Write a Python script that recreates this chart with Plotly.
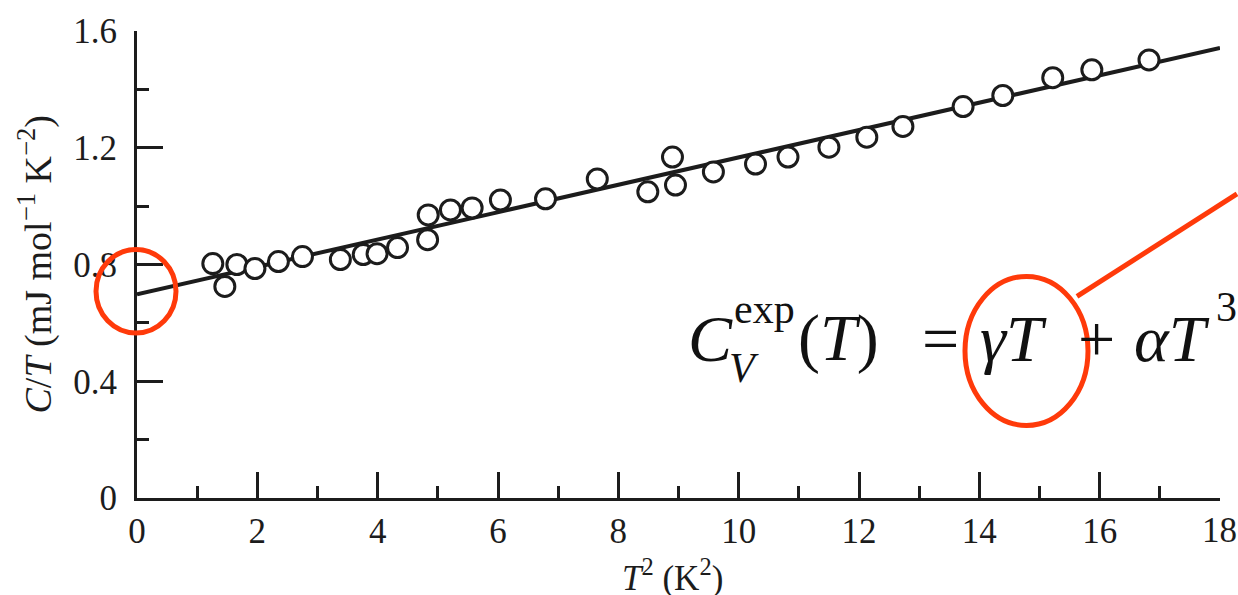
import plotly.graph_objects as go

# ---- data ----
t2_values = [1.26, 1.46, 1.66, 1.96, 2.35, 2.75, 3.38, 3.76, 3.99, 4.33,
             4.83, 4.84, 5.21, 5.57, 6.04, 6.79, 7.65, 8.49, 8.90, 8.95,
             9.58, 10.28, 10.82, 11.50, 12.13, 12.73, 13.73, 14.39, 15.22,
             15.87, 16.82]
ct_values = [0.803, 0.725, 0.800, 0.786, 0.810, 0.827, 0.817, 0.834, 0.837, 0.858,
             0.885, 0.970, 0.987, 0.994, 1.021, 1.025, 1.093, 1.049, 1.168, 1.072,
             1.117, 1.144, 1.168, 1.202, 1.236, 1.273, 1.341, 1.379, 1.440,
             1.467, 1.501]
fit_x = [0, 18]
fit_y = [0.698, 1.542]

x_ticks = [0, 2, 4, 6, 8, 10, 12, 14, 16, 18]
x_tick_labels = ["0", "2", "4", "6", "8", "10", "12", "14", "16", "18"]
y_ticks = [0, 0.4, 0.8, 1.2, 1.6]
y_tick_labels = ["0", "0.4", "0.8", "1.2", "1.6"]

# ---- layout geometry (pixels) ----
W, H = 1238, 595
L, R, T, B = 137, 1220, 28, 498


def px(xp):
    return (xp - L) / (R - L)


def py(yp):
    return (B - yp) / (B - T)


FONT = "Liberation Serif"
INK = "#1c1c1c"
RED = "#ff3a0a"
TICK_SIZE = 35

fig = go.Figure()
fig.add_trace(go.Scatter(x=fit_x, y=fit_y, mode="lines",
                         line=dict(color=INK, width=4), hoverinfo="skip",
                         showlegend=False))
fig.add_trace(go.Scatter(x=t2_values, y=ct_values, mode="markers",
                         marker=dict(symbol="circle", size=20, color="white",
                                     line=dict(color=INK, width=3)),
                         showlegend=False))

axis_common = dict(showline=True, linecolor=INK, linewidth=3, ticks="inside",
                   tickcolor=INK, tickwidth=3, ticklen=26, showgrid=False,
                   zeroline=False,
                   tickfont=dict(family=FONT, size=TICK_SIZE, color=INK))

# the last x label sits at the page edge: it is drawn as an annotation,
# right-aligned to the edge, so that it does not spill past the page
x_axis_text = x_tick_labels[:-1] + [""]
fig.update_xaxes(range=[0, 18], tickvals=x_ticks, ticktext=x_axis_text,
                 ticklabelstandoff=0,
                 minor=dict(dtick=1, ticks="inside", ticklen=12, tickwidth=3,
                            tickcolor=INK, showgrid=False),
                 **axis_common)
fig.update_yaxes(range=[0, 1.6], tickvals=y_ticks, ticktext=y_tick_labels,
                 ticklabelstandoff=10,
                 minor=dict(dtick=0.2, ticks="inside", ticklen=12, tickwidth=3,
                            tickcolor=INK, showgrid=False),
                 **axis_common)

annotations = [
    dict(text=x_tick_labels[-1], x=px(1238), y=py(531), xanchor="right",
         font=dict(family=FONT, size=TICK_SIZE, color=INK), borderpad=0),
    dict(text="<i>T</i><sup>2</sup> (K<sup>2</sup>)", x=px(672), y=py(576),
         font=dict(family=FONT, size=35, color=INK)),
    dict(text="<i>C</i>/<i>T</i> (mJ mol<sup>\u22121</sup> K<sup>\u22122</sup>)",
         x=px(36), y=py(263), font=dict(family=FONT, size=38, color=INK),
         textangle=-90),
]

# formula pieces: (text, anchor px, middle px, size, anchor side)
formula = [
    ("<i>C</i>", 687, 337, 66, "left"),
    ("exp", 733, 308, 42, "left"),
    ("<i>V</i>", 728, 367, 42, "left"),
    ("(<i>T</i>)", 797, 337, 66, "left"),
    ("=", 921, 337, 66, "left"),
    ("<i>\u03b3T</i>", 979, 337, 66, "left"),
    ("+", 1077, 337, 66, "left"),
    ("<i>\u03b1T</i>", 1133, 337, 66, "left"),
    ("3", 1238, 306, 42, "right"),
]
for txt, xa, ym, sz, side in formula:
    annotations.append(dict(text=txt, x=px(xa), y=py(ym), xanchor=side,
                            yanchor="middle", borderpad=0,
                            font=dict(family=FONT, size=sz, color="#111")))

for a in annotations:
    a.setdefault("xanchor", "center")
    a.setdefault("yanchor", "middle")
    a.update(xref="paper", yref="paper", showarrow=False)

shapes = [
    dict(type="circle", x0=px(96), x1=px(176), y0=py(332), y1=py(248),
         line=dict(color=RED, width=5)),
    dict(type="circle", x0=px(965), x1=px(1088), y0=py(425), y1=py(275),
         line=dict(color=RED, width=5)),
    dict(type="line", x0=px(1077), y0=py(295), x1=px(1237), y1=py(192),
         line=dict(color=RED, width=5)),
]
for s in shapes:
    s.update(xref="paper", yref="paper", layer="above")

fig.update_layout(width=W, height=H, margin=dict(l=L, r=W - R, t=T, b=H - B),
                  plot_bgcolor="white", paper_bgcolor="white",
                  annotations=annotations, shapes=shapes, showlegend=False)

post = (
    "document.documentElement.style.overflow='hidden';"
    "document.body.style.margin='0';"
    "document.body.style.overflow='hidden';"
)
fig.write_html("out.html", config={"displayModeBar": False}, post_script=post)
